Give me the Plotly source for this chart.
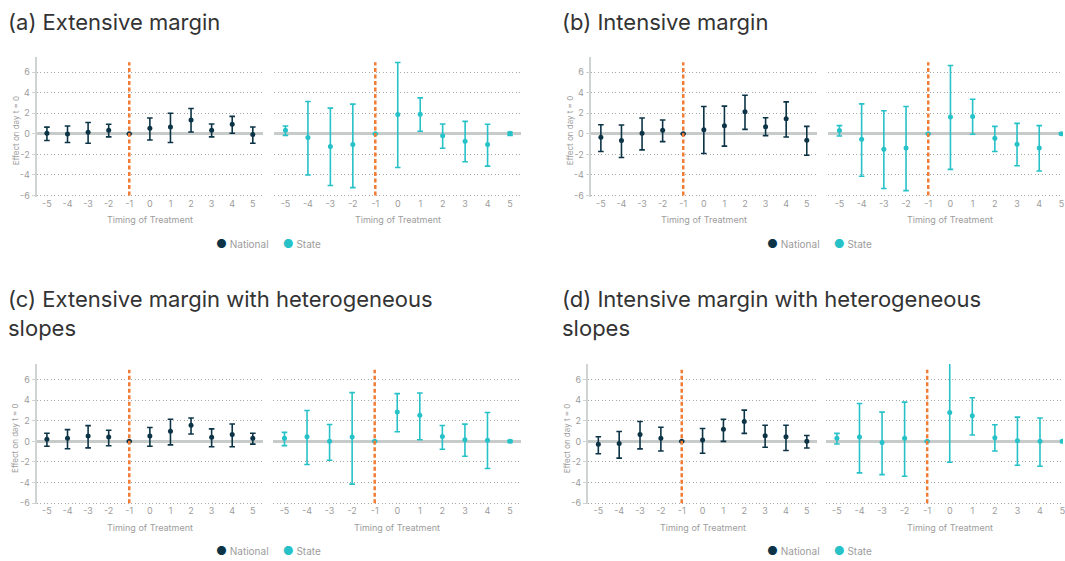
import plotly.graph_objects as go

# ---------------- data ----------------
timing = [-5, -4, -3, -2, -1, 0, 1, 2, 3, 4, 5]
x_tick_labels = ["-5", "-4", "-3", "-2", "-1", "0", "1", "2", "3", "4", "5"]
tick_vals = [-6, -4, -2, 0, 2, 4, 6]
y_tick_labels = ["-6", "-4", "-2", "0", "2", "4", "6"]

a_nat_est = [0.05, -0.02, 0.15, 0.34, 0, 0.53, 0.66, 1.33, 0.34, 0.92, -0.08]
a_nat_hi = [0.65, 0.75, 1.1, 0.92, None, 1.53, 2.0, 2.46, 0.95, 1.69, 0.66]
a_nat_lo = [-0.65, -0.85, -0.92, -0.3, None, -0.6, -0.85, 0.18, -0.3, 0.05, -0.92]

a_st_est = [0.34, -0.37, -1.24, -1.05, 0, 1.88, 1.91, -0.18, -0.72, -1.05, 0.05]
a_st_hi = [0.75, 3.14, 2.49, 2.88, None, 6.93, 3.49, 0.95, 1.21, 0.92, 0.15]
a_st_lo = [-0.15, -4.0, -5.03, -5.23, None, -3.27, 0.24, -1.4, -2.72, -3.14, -0.15]

b_nat_est = [-0.34, -0.66, 0.05, 0.34, 0, 0.4, 0.79, 2.14, 0.69, 1.46, -0.63]
b_nat_hi = [0.88, 0.85, 1.53, 1.34, None, 2.65, 2.69, 3.75, 1.56, 3.1, 0.72]
b_nat_lo = [-1.72, -2.3, -1.56, -0.76, None, -1.91, -1.2, 0.43, -0.18, -0.31, -2.08]

b_st_est = [0.31, -0.53, -1.5, -1.37, 0, 1.62, 1.69, -0.43, -1.01, -1.37, 0]
b_st_hi = [0.79, 2.91, 2.24, 2.65, None, 6.64, 3.36, 0.72, 1.01, 0.79, 0.1]
b_st_lo = [-0.21, -4.13, -5.32, -5.52, None, -3.46, -0.05, -1.72, -3.1, -3.62, -0.1]

c_nat_est = [0.21, 0.31, 0.53, 0.43, 0, 0.53, 0.98, 1.56, 0.4, 0.66, 0.31]
c_nat_hi = [0.79, 1.14, 1.53, 1.08, None, 1.34, 2.14, 2.27, 1.21, 1.69, 0.79]
c_nat_lo = [-0.47, -0.72, -0.63, -0.43, None, -0.47, -0.34, 0.72, -0.53, -0.53, -0.27]

c_st_est = [0.29, 0.45, 0, 0.42, 0, 2.86, 2.54, 0.48, 0.16, 0.1, 0]
c_st_hi = [0.87, 2.99, 1.64, 4.73, None, 4.63, 4.7, 1.54, 1.67, 2.8, 0.1]
c_st_lo = [-0.42, -2.25, -1.83, -4.15, None, 0.93, 0.16, -0.77, -1.45, -2.64, -0.1]

d_nat_est = [-0.29, -0.22, 0.67, 0.29, 0, 0.13, 1.18, 1.92, 0.54, 0.45, 0]
d_nat_hi = [0.45, 0.96, 1.92, 1.37, None, 1.24, 2.14, 3.03, 1.56, 1.56, 0.57]
d_nat_lo = [-1.21, -1.63, -0.73, -0.93, None, -1.15, 0, 0.77, -0.57, -0.89, -0.64]

d_st_est = [0.29, 0.42, -0.1, 0.29, 0, 2.81, 2.48, 0.35, 0.06, 0, 0]
d_st_hi = [0.77, 3.68, 2.84, 3.81, None, 7.9, 4.23, 1.61, 2.35, 2.26, 0.1]
d_st_lo = [-0.26, -3.06, -3.23, -3.39, None, -2.03, 0.61, -0.94, -2.32, -2.42, -0.1]

panel_titles = [
    "(a) Extensive margin",
    "(b) Intensive margin",
    "(c) Extensive margin with heterogeneous<br>slopes",
    "(d) Intensive margin with heterogeneous<br>slopes",
]
series_names = ["National", "State"]
x_title = "Timing of Treatment"
y_title = "Effect on day t = 0"

# ---------------- style ----------------
W, H = 1065, 561
NAT_COLOR = "#0c3446"
ST_COLOR = "#27c1c8"
ORANGE = "#f07c35"
GRID = "#a8a8a8"
ZERO = "#c7cbc9"
AXIS_TXT = "#9c9c9c"
FONT = "Inter"


def px_x(p):
    return p / W


def px_y(p):
    return 1 - p / H


rows = {
    "top": (57.0, 198.0),
    "bot": (366.7, 507.8),
}
panels = [
    ("top", (36.7, 263.6, [-5.5, 5.5]), (274.75, 522.25, [-5.5, 5.5]),
     (a_nat_est, a_nat_hi, a_nat_lo, a_st_est, a_st_hi, a_st_lo), 269),
    ("top", (591.7, 818.6, [-5.5, 5.5]), (829.9, 1065.0, [-5.5, 5.07]),
     (b_nat_est, b_nat_hi, b_nat_lo, b_st_est, b_st_hi, b_st_lo), 821),
    ("bot", (36.7, 263.6, [-5.5, 5.5]), (273.7, 522.3, [-5.5, 5.5]),
     (c_nat_est, c_nat_hi, c_nat_lo, c_st_est, c_st_hi, c_st_lo), 269),
    ("bot", (589.0, 818.8, [-5.5, 5.5]), (827.2, 1065.0, [-5.5, 5.02]),
     (d_nat_est, d_nat_hi, d_nat_lo, d_st_est, d_st_hi, d_st_lo), 821),
]
title_pos = [(6, 22), (561, 22), (6, 316), (561, 316)]

Y_RANGE = [-6.1, 7.5]

fig = go.Figure()
layout = {}
annotations = []
shapes = []


def err(est, hi, lo):
    plus = [None if h is None else h - e for e, h in zip(est, hi)]
    minus = [None if l is None else e - l for e, l in zip(est, lo)]
    return plus, minus


ax_i = 0
for p_i, (row, nat, st, data, legend_cx) in enumerate(panels):
    ytop, ybot = rows[row]
    ydom = [px_y(ybot), px_y(ytop)]
    for s_i, (geom, color) in enumerate([(nat, NAT_COLOR), (st, ST_COLOR)]):
        ax_i += 1
        x0, x1, xr = geom
        est, hi, lo = data[3 * s_i], data[3 * s_i + 1], data[3 * s_i + 2]
        plus, minus = err(est, hi, lo)
        xa = "x" if ax_i == 1 else f"x{ax_i}"
        ya = "y" if ax_i == 1 else f"y{ax_i}"
        xkey = "xaxis" if ax_i == 1 else f"xaxis{ax_i}"
        ykey = "yaxis" if ax_i == 1 else f"yaxis{ax_i}"
        fig.add_trace(go.Scatter(
            x=timing, y=est, mode="markers", xaxis=xa, yaxis=ya,
            name=series_names[s_i], showlegend=False,
            marker=dict(color=color, size=5),
            error_y=dict(type="data", symmetric=False, array=plus,
                         arrayminus=minus, color=color, thickness=1.6, width=2.8),
        ))
        layout[xkey] = dict(
            domain=[px_x(x0), min(px_x(x1), 1.0)], range=xr, anchor=ya,
            tickmode="array", tickvals=timing, ticktext=x_tick_labels,
            ticklabeloverflow="allow",
            showgrid=False, zeroline=False, showline=False,
            ticks="", tickfont=dict(size=9, color=AXIS_TXT, family=FONT),
            fixedrange=True,
        )
        layout[ykey] = dict(
            domain=ydom, range=Y_RANGE, anchor=xa,
            tickmode="array", tickvals=tick_vals, ticktext=y_tick_labels,
            showgrid=True, gridcolor=GRID, griddash="1px,2.5px", gridwidth=1,
            zeroline=True, zerolinecolor=ZERO, zerolinewidth=3,
            showticklabels=(s_i == 0), showline=(s_i == 0),
            linecolor="#cfd3d1", linewidth=2,
            ticks="outside" if s_i == 0 else "", ticklen=3, tickcolor="#cfd3d1",
            tickfont=dict(size=9, color=AXIS_TXT, family=FONT),
            fixedrange=True,
        )
        shapes.append(dict(type="line", xref=xa, yref=ya, x0=-1, x1=-1, y0=-6, y1=6.95,
                           line=dict(color=ORANGE, width=2.5, dash="4px,2.5px"), layer="above"))
        full_x1 = x0 + (x1 - x0) * 11.0 / (xr[1] - xr[0])
        annotations.append(dict(
            text=x_title, xref="paper", yref="paper",
            x=px_x((x0 + full_x1) / 2), y=px_y(ybot + 23),
            xanchor="center", yanchor="middle", showarrow=False,
            font=dict(size=9, color=AXIS_TXT, family=FONT),
        ))
        if s_i == 0:
            annotations.append(dict(
                text=y_title, xref="paper", yref=ya, x=px_x(x0 - 21), y=0.3,
                textangle=-90, xanchor="center", yanchor="middle", showarrow=False,
                font=dict(size=8, color=AXIS_TXT, family=FONT),
            ))
    legend_y = 245 if row == "top" else 554
    annotations.append(dict(
        text=(f"<span style='color:{NAT_COLOR}; font-size:12px'>●</span> {series_names[0]}"
              f"&nbsp;&nbsp;&nbsp;&nbsp;&nbsp;<span style='color:{ST_COLOR}; font-size:12px'>●</span> {series_names[1]}"),
        xref="paper", yref="paper", x=px_x(legend_cx), y=px_y(legend_y),
        xanchor="center", yanchor="middle", showarrow=False,
        font=dict(size=10, color=AXIS_TXT, family=FONT),
    ))

for t, (tx, ty) in zip(panel_titles, title_pos):
    annotations.append(dict(
        text=t, xref="paper", yref="paper", x=px_x(tx), y=px_y(ty),
        xanchor="left", yanchor="middle", align="left", showarrow=False,
        font=dict(size=22, color="#333333", family=FONT),
    ))

fig.update_layout(
    width=W, height=H, margin=dict(l=0, r=0, t=0, b=0),
    paper_bgcolor="white", plot_bgcolor="white",
    showlegend=False, annotations=annotations, shapes=shapes,
    font=dict(family=FONT),
    **layout,
)

fig.write_html(
    "out.html",
    config={"displayModeBar": False},
    post_script="document.body.style.margin='0px';document.body.style.overflow='hidden';",
)
